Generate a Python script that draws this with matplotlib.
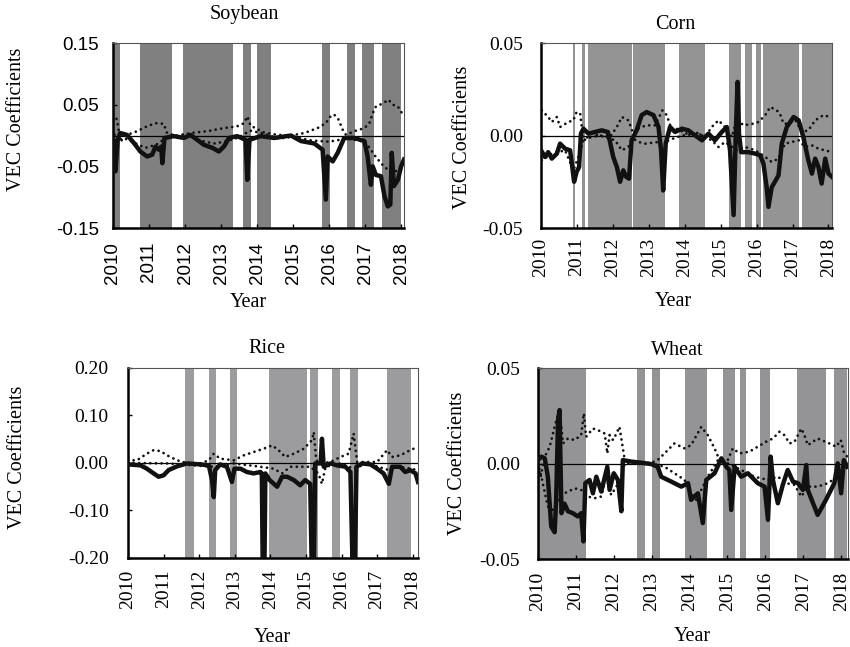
import matplotlib
matplotlib.use('Agg')
import matplotlib.pyplot as plt

plt.rcParams['font.family'] = ['Liberation Serif', 'DejaVu Serif']

years = [2010, 2011, 2012, 2013, 2014, 2015, 2016, 2017, 2018]

# Soybean
soy_solid = [(2010.00, -0.007), (2010.04, -0.050), (2010.07, -0.058), (2010.13, -0.007), (2010.20, 0.004),
             (2010.39, 0.001), (2010.58, -0.012), (2010.76, -0.026), (2010.95, -0.034), (2011.09, -0.031),
             (2011.18, -0.018), (2011.27, -0.023), (2011.34, -0.018), (2011.37, -0.045), (2011.43, -0.004),
             (2011.69, -0.001), (2011.97, -0.004), (2012.15, 0.001), (2012.34, -0.007), (2012.52, -0.015),
             (2012.76, -0.020), (2012.94, -0.026), (2013.08, -0.018), (2013.22, -0.004), (2013.45, -0.001),
             (2013.68, -0.007), (2013.73, -0.072), (2013.79, -0.007), (2014.10, -0.001), (2014.47, -0.004),
             (2014.94, 0.000), (2015.22, -0.009), (2015.59, -0.013), (2015.82, -0.023), (2015.91, -0.104),
             (2015.96, -0.034), (2016.10, -0.042), (2016.24, -0.028), (2016.42, -0.004), (2016.70, -0.004),
             (2016.98, -0.009), (2017.07, -0.034), (2017.16, -0.080), (2017.21, -0.050), (2017.30, -0.064),
             (2017.44, -0.066), (2017.54, -0.099), (2017.63, -0.115), (2017.70, -0.112), (2017.74, -0.028),
             (2017.80, -0.082), (2017.91, -0.072), (2018.00, -0.050), (2018.08, -0.039)]
soy_up = [(2010.00, 0.034), (2010.11, 0.026), (2010.20, -0.007), (2010.39, 0.001), (2010.67, 0.007),
          (2010.95, 0.015), (2011.18, 0.020), (2011.41, 0.019), (2011.50, 0.004), (2011.78, -0.001),
          (2012.15, 0.004), (2012.62, 0.007), (2013.08, 0.012), (2013.45, 0.015), (2013.64, 0.020),
          (2013.73, 0.031), (2013.82, 0.016), (2014.19, 0.005), (2014.57, 0.001), (2014.94, 0.000),
          (2015.31, 0.004), (2015.68, 0.012), (2015.91, 0.020), (2016.05, 0.032), (2016.14, 0.034),
          (2016.26, 0.026), (2016.38, 0.009), (2016.47, 0.001), (2016.70, 0.007), (2016.98, 0.012),
          (2017.12, 0.020), (2017.21, 0.036), (2017.30, 0.047), (2017.49, 0.052), (2017.65, 0.058),
          (2017.77, 0.050), (2017.91, 0.047), (2018.08, 0.031)]
soy_low = [(2010.00, 0.010), (2010.12, -0.015), (2010.30, -0.004), (2010.60, -0.012), (2010.90, -0.020),
           (2011.20, -0.015), (2011.50, -0.003), (2012.00, 0.002), (2012.40, -0.008), (2012.80, -0.013),
           (2013.10, -0.010), (2013.50, -0.003), (2013.80, 0.008), (2014.20, 0.003), (2014.60, -0.005),
           (2015.00, -0.002), (2015.50, -0.008), (2016.00, -0.010), (2016.50, -0.005), (2017.00, -0.010),
           (2017.30, -0.035), (2017.55, -0.052), (2017.80, -0.060), (2018.00, -0.052), (2018.08, -0.040)]
soy_shade = [(2010.00, 2010.19), (2010.76, 2011.64), (2011.95, 2013.33), (2013.61, 2013.82), (2014.01, 2014.40),
             (2015.80, 2016.03), (2016.49, 2016.72), (2016.91, 2017.26), (2017.47, 2017.99)]

# Corn
corn_solid = [(2010.00, -0.0080), (2010.11, -0.0116), (2010.20, -0.0090), (2010.30, -0.0125), (2010.44, -0.0098),
              (2010.53, -0.0044), (2010.67, -0.0071), (2010.81, -0.0080), (2010.87, -0.0170), (2010.92, -0.0250),
              (2010.99, -0.0197), (2011.06, -0.0170), (2011.11, 0.0010), (2011.18, 0.0037), (2011.32, 0.0010),
              (2011.50, 0.0019), (2011.69, 0.0028), (2011.86, 0.0019), (2012.01, -0.0116), (2012.11, -0.0170),
              (2012.20, -0.0250), (2012.29, -0.0188), (2012.37, -0.0224), (2012.45, -0.0233), (2012.52, -0.0026),
              (2012.66, 0.0028), (2012.80, 0.0110), (2012.94, 0.0127), (2013.13, 0.0110), (2013.27, 0.0046),
              (2013.34, -0.0080), (2013.40, -0.0297), (2013.47, -0.0044), (2013.59, 0.0046), (2013.73, 0.0019),
              (2013.92, 0.0037), (2014.10, 0.0028), (2014.29, 0.0000), (2014.48, -0.0026), (2014.66, 0.0010),
              (2014.84, -0.0026), (2015.03, 0.0019), (2015.17, 0.0046), (2015.26, -0.0080), (2015.36, -0.0430),
              (2015.42, 0.0010), (2015.47, 0.0290), (2015.51, 0.0010), (2015.57, -0.0090), (2015.77, -0.0090),
              (2015.96, -0.0098), (2016.10, -0.0107), (2016.19, -0.0152), (2016.28, -0.0280), (2016.33, -0.0386),
              (2016.42, -0.0280), (2016.51, -0.0250), (2016.61, -0.0215), (2016.70, -0.0044), (2016.84, 0.0046),
              (2017.03, 0.0100), (2017.17, 0.0082), (2017.30, -0.0008), (2017.44, -0.0134), (2017.54, -0.0206),
              (2017.63, -0.0125), (2017.72, -0.0170), (2017.81, -0.0260), (2017.91, -0.0125), (2018.00, -0.0206),
              (2018.10, -0.0224)]
corn_up = [(2010.02, 0.0136), (2010.20, 0.0100), (2010.30, 0.0073), (2010.44, 0.0100), (2010.53, 0.0046),
           (2010.76, 0.0073), (2010.90, 0.0082), (2010.99, 0.0127), (2011.09, 0.0118), (2011.18, -0.0026),
           (2011.41, -0.0008), (2011.69, 0.0000), (2011.92, -0.0008), (2012.11, 0.0046), (2012.25, 0.0100),
           (2012.43, 0.0082), (2012.57, 0.0010), (2012.76, 0.0046), (2012.99, 0.0055), (2013.17, 0.0055),
           (2013.38, 0.0136), (2013.50, 0.0110), (2013.64, 0.0028), (2013.82, 0.0037), (2014.01, 0.0010),
           (2014.29, 0.0019), (2014.57, -0.0008), (2014.75, 0.0046), (2014.94, 0.0082), (2015.12, 0.0046),
           (2015.31, -0.0008), (2015.45, 0.0091), (2015.63, 0.0055), (2015.91, 0.0064), (2016.05, 0.0073),
           (2016.24, 0.0110), (2016.38, 0.0154), (2016.56, 0.0136), (2016.65, 0.0118), (2016.75, 0.0064),
           (2016.89, 0.0064), (2017.08, 0.0082), (2017.26, 0.0019), (2017.44, 0.0028), (2017.63, 0.0082),
           (2017.86, 0.0110), (2018.05, 0.0100)]
corn_low = [(2010.02, -0.0134), (2010.30, -0.0098), (2010.67, -0.0080), (2010.90, -0.0188), (2011.04, -0.0116),
            (2011.18, -0.0026), (2011.41, 0.0010), (2011.78, -0.0008), (2012.06, -0.0026), (2012.25, -0.0080),
            (2012.43, -0.0062), (2012.57, -0.0017), (2012.71, -0.0035), (2012.90, -0.0044), (2013.27, -0.0035),
            (2013.38, -0.0080), (2013.54, -0.0026), (2013.92, 0.0000), (2014.38, 0.0010), (2014.75, -0.0026),
            (2014.94, -0.0062), (2015.12, -0.0035), (2015.45, -0.0080), (2015.68, -0.0062), (2015.96, -0.0080),
            (2016.24, -0.0116), (2016.42, -0.0143), (2016.61, -0.0125), (2016.79, -0.0044), (2016.98, -0.0035),
            (2017.17, -0.0026), (2017.35, -0.0062), (2017.54, -0.0053), (2017.72, -0.0071), (2018.10, -0.0090)]
corn_shade = [(2010.90, 2010.94), (2011.13, 2011.21), (2011.32, 2012.54), (2012.56, 2013.45), (2013.84, 2014.57),
              (2015.24, 2015.57), (2015.68, 2015.87), (2015.99, 2016.12), (2016.17, 2017.19), (2017.26, 2018.10)]

# Rice
rice_solid = [(2010.00, -0.003), (2010.35, -0.005), (2010.53, -0.012), (2010.72, -0.022), (2010.86, -0.029),
              (2011.00, -0.026), (2011.14, -0.015), (2011.38, -0.007), (2011.66, -0.001), (2012.03, -0.003),
              (2012.27, -0.005), (2012.36, -0.036), (2012.41, -0.072), (2012.45, -0.015), (2012.59, -0.003),
              (2012.78, -0.008), (2012.92, -0.040), (2012.99, -0.012), (2013.16, -0.012), (2013.34, -0.019),
              (2013.53, -0.022), (2013.72, -0.019), (2013.76, -0.022), (2013.79, -0.250), (2013.83, -0.250),
              (2013.86, -0.022), (2013.98, -0.036), (2014.19, -0.050), (2014.33, -0.029), (2014.47, -0.029),
              (2014.66, -0.036), (2014.84, -0.047), (2014.98, -0.036), (2015.12, -0.044), (2015.17, -0.250),
              (2015.22, -0.250), (2015.26, -0.001), (2015.41, -0.001), (2015.45, 0.051), (2015.50, -0.008),
              (2015.69, -0.001), (2015.87, -0.005), (2016.11, -0.008), (2016.25, -0.019), (2016.32, -0.250),
              (2016.37, -0.250), (2016.42, -0.008), (2016.58, -0.001), (2016.81, -0.003), (2017.00, -0.012),
              (2017.18, -0.022), (2017.33, -0.044), (2017.42, -0.008), (2017.65, -0.008), (2017.79, -0.019),
              (2017.93, -0.015), (2018.08, -0.022), (2018.15, -0.040)]
rice_up = [(2010.00, 0.0056), (2010.25, 0.0056), (2010.53, 0.0196), (2010.72, 0.0270), (2010.91, 0.0250),
           (2011.10, 0.0160), (2011.38, 0.0056), (2011.66, 0.0000), (2012.03, -0.0010), (2012.27, 0.0056),
           (2012.41, 0.0196), (2012.59, 0.0090), (2012.97, 0.0056), (2013.25, 0.0160), (2013.53, 0.0230),
           (2013.81, 0.0300), (2014.05, 0.0370), (2014.23, 0.0270), (2014.42, 0.0126), (2014.66, 0.0196),
           (2014.94, 0.0300), (2015.17, 0.0480), (2015.22, 0.0650), (2015.29, 0.0056), (2015.41, -0.0010),
           (2015.69, 0.0020), (2015.97, 0.0126), (2016.20, 0.0196), (2016.34, 0.0620), (2016.44, 0.0020),
           (2016.72, 0.0020), (2017.00, 0.0020), (2017.28, 0.0270), (2017.42, 0.0126), (2017.65, 0.0160),
           (2017.93, 0.0270), (2018.15, 0.0340)]
rice_low = [(2010.00, 0.000), (2011.10, -0.001), (2012.41, -0.008), (2012.97, -0.001), (2013.72, -0.008),
            (2014.09, -0.012), (2014.33, -0.022), (2014.56, -0.008), (2015.12, -0.008), (2015.35, -0.022),
            (2015.45, -0.044), (2015.55, -0.008), (2015.97, -0.001), (2016.34, -0.012), (2016.72, -0.001),
            (2017.33, -0.015), (2017.65, -0.008), (2018.15, -0.015)]
rice_shade = [(2011.61, 2011.85), (2012.27, 2012.48), (2012.86, 2013.06), (2013.97, 2015.02), (2015.12, 2015.33),
              (2015.73, 2015.95), (2016.25, 2016.46), (2017.27, 2017.94)]
rice_shade_dark = [(2013.97, 2015.02), (2017.27, 2017.94)]

# Wheat
wheat_solid = [(2010.00, 0.0018), (2010.09, 0.0036), (2010.18, 0.0027), (2010.26, -0.0069), (2010.35, -0.0330),
               (2010.44, -0.0360), (2010.48, -0.0190), (2010.53, 0.0227), (2010.57, 0.0280), (2010.62, -0.0260),
               (2010.70, -0.0210), (2010.79, -0.0250), (2010.92, -0.0260), (2011.05, -0.0277), (2011.14, -0.0260),
               (2011.20, -0.0408), (2011.25, -0.0103), (2011.36, -0.0086), (2011.45, -0.0156), (2011.54, -0.0069),
               (2011.67, -0.0147), (2011.83, -0.0017), (2011.89, -0.0138), (2012.00, -0.0051), (2012.11, -0.0086),
               (2012.20, -0.0250), (2012.24, 0.0018), (2012.46, 0.0010), (2012.73, 0.0004), (2012.99, -0.0003),
               (2013.16, -0.0017), (2013.25, -0.0069), (2013.52, -0.0095), (2013.78, -0.0121), (2013.96, -0.0103),
               (2014.04, -0.0190), (2014.22, -0.0156), (2014.35, -0.0312), (2014.44, -0.0086), (2014.66, -0.0051),
               (2014.84, 0.0027), (2014.97, -0.0017), (2015.05, -0.0034), (2015.10, -0.0243), (2015.19, -0.0017),
               (2015.36, -0.0069), (2015.54, -0.0051), (2015.80, -0.0103), (2015.98, -0.0121), (2016.07, -0.0295),
               (2016.14, 0.0036), (2016.20, -0.0086), (2016.33, -0.0208), (2016.46, -0.0112), (2016.59, -0.0034),
               (2016.73, -0.0095), (2016.86, -0.0103), (2016.99, -0.0138), (2017.08, -0.0008), (2017.12, -0.0138),
               (2017.38, -0.0269), (2017.60, -0.0190), (2017.82, -0.0103), (2017.91, 0.0001), (2018.00, -0.0156),
               (2018.07, 0.0018), (2018.16, -0.0017)]
wheat_up = [(2010.00, -0.0017), (2010.07, -0.0069), (2010.18, 0.0036), (2010.31, 0.0088), (2010.44, 0.0192),
            (2010.57, 0.0288), (2010.66, 0.0105), (2010.79, 0.0131), (2010.97, 0.0123), (2011.14, 0.0149),
            (2011.21, 0.0262), (2011.27, 0.0140), (2011.45, 0.0183), (2011.58, 0.0175), (2011.76, 0.0157),
            (2011.83, 0.0053), (2011.89, 0.0149), (2011.98, 0.0123), (2012.07, 0.0157), (2012.15, 0.0192),
            (2012.22, 0.0105), (2012.29, 0.0018), (2012.64, 0.0001), (2012.99, 0.0004), (2013.16, 0.0018),
            (2013.34, 0.0053), (2013.60, 0.0105), (2013.87, 0.0079), (2014.04, 0.0096), (2014.31, 0.0192),
            (2014.48, 0.0149), (2014.66, 0.0079), (2014.79, 0.0018), (2014.97, 0.0001), (2015.14, 0.0079),
            (2015.32, 0.0053), (2015.58, 0.0062), (2015.80, 0.0088), (2016.02, 0.0114), (2016.20, 0.0131),
            (2016.37, 0.0166), (2016.50, 0.0149), (2016.64, 0.0105), (2016.77, 0.0114), (2016.95, 0.0183),
            (2017.03, 0.0149), (2017.12, 0.0096), (2017.38, 0.0131), (2017.69, 0.0105), (2017.87, 0.0088),
            (2017.99, 0.0123), (2018.08, 0.0053), (2018.16, 0.0036)]
wheat_low = [(2010.00, 0.0001), (2010.09, -0.0069), (2010.26, -0.0225), (2010.40, -0.0243), (2010.53, -0.0190),
             (2010.70, -0.0156), (2010.97, -0.0130), (2011.14, -0.0138), (2011.32, -0.0173), (2011.49, -0.0182),
             (2011.67, -0.0173), (2011.80, -0.0069), (2011.93, -0.0164), (2012.07, -0.0121), (2012.20, -0.0069),
             (2012.29, 0.0001), (2012.99, 0.0001), (2013.34, -0.0017), (2013.87, -0.0086), (2014.04, -0.0156),
             (2014.18, -0.0190), (2014.31, -0.0138), (2014.48, -0.0069), (2014.75, 0.0018), (2015.01, 0.0001),
             (2015.36, -0.0034), (2015.71, -0.0069), (2016.07, -0.0086), (2016.33, -0.0069), (2016.55, -0.0103),
             (2016.77, -0.0112), (2016.95, -0.0173), (2017.12, -0.0121), (2017.38, -0.0121), (2017.65, -0.0103),
             (2017.91, -0.0069), (2018.16, 0.0001)]
wheat_shade = [(2010.00, 2011.27), (2012.61, 2012.83), (2013.02, 2013.21), (2013.87, 2014.47), (2014.88, 2015.20),
               (2015.32, 2015.49), (2015.87, 2016.13), (2016.83, 2017.60), (2017.81, 2018.16)]


def draw_panel(rect, title, solid, up, low, shade, shade_col, xmax, ylim, yticks,
               title_x, title_pad, ylab_xy, xlab_xy, tick_font, tick_size, ypad, xpad, dark=None):
    ax = fig.add_axes(rect)
    for a, b in shade:
        ax.axvspan(a, b, color=shade_col, lw=0, zorder=0)
    if dark:
        for a, b in dark:
            ax.fill_between([a, b], 0, ylim[1], color='#7f7f7f', lw=0, zorder=0.5)
    ax.axhline(0, color='black', lw=0.9, zorder=1)
    for ser in (up, low):
        ax.plot([p[0] for p in ser], [p[1] for p in ser], color='#111111', lw=2.0,
                linestyle=(0, (0.01, 2.0)), dash_capstyle='round', zorder=2)
    ax.plot([p[0] for p in solid], [p[1] for p in solid], color='#111111', lw=3.2,
            solid_joinstyle='round', zorder=3)
    ax.set_xlim(2010, xmax)
    ax.set_ylim(*ylim)
    ax.set_yticks(yticks)
    ax.set_yticklabels(['%.2f' % t for t in yticks], fontsize=tick_size, family=tick_font)
    ax.set_xticks(years)
    ax.set_xticklabels([str(y) for y in years], rotation=90, fontsize=tick_size, family=tick_font)
    ax.tick_params(direction='in', length=3, width=1)
    ax.tick_params(axis='y', pad=ypad)
    ax.tick_params(axis='x', pad=xpad)
    for s in ['left', 'bottom']:
        ax.spines[s].set_linewidth(1.8)
    for s in ['top', 'right']:
        ax.spines[s].set_linewidth(0.8)
        ax.spines[s].set_color('#555555')
    ax.set_title(title, fontsize=14.5, x=title_x, pad=title_pad)
    ax.set_ylabel('VEC Coefficients', fontsize=14.5, va='center')
    ax.yaxis.set_label_coords(*ylab_xy)
    ax.set_xlabel('Year', fontsize=14.5, va='center')
    ax.xaxis.set_label_coords(*xlab_xy)
    return ax


fig = plt.figure(figsize=(8.5, 6.47), dpi=100)

draw_panel([0.1329, 0.6476, 0.3424, 0.2859], 'Soybean', soy_solid, soy_up, soy_low, soy_shade,
           '#808080', 2018.08, (-0.15, 0.15), [-0.15, -0.05, 0.05, 0.15],
           0.45, 17, (-0.33, 0.59), (0.464, -0.405), 'Liberation Sans', 13.5, 10, 10)
draw_panel([0.6365, 0.6476, 0.3424, 0.2859], 'Corn', corn_solid, corn_up, corn_low, corn_shade,
           '#949494', 2018.10, (-0.05, 0.05), [-0.05, 0.0, 0.05],
           0.46, 10, (-0.27, 0.49), (0.454, -0.40), 'Liberation Serif', 14, 13, 7)
draw_panel([0.1506, 0.1376, 0.3412, 0.2937], 'Rice', rice_solid, rice_up, rice_low, rice_shade,
           '#9c9c9e', 2018.15, (-0.20, 0.20), [-0.20, -0.10, 0.0, 0.10, 0.20],
           0.48, 11, (-0.38, 0.53), (0.497, -0.416), 'Liberation Serif', 14, 14, 8.5)
draw_panel([0.6329, 0.1360, 0.3647, 0.2952], 'Wheat', wheat_solid, wheat_up, wheat_low, wheat_shade,
           '#949497', 2018.18, (-0.05, 0.05), [-0.05, 0.0, 0.05],
           0.45, 9.5, (-0.26, 0.50), (0.497, -0.408), 'Liberation Serif', 14, 13, 9)

fig.savefig('out.png', dpi=100)
